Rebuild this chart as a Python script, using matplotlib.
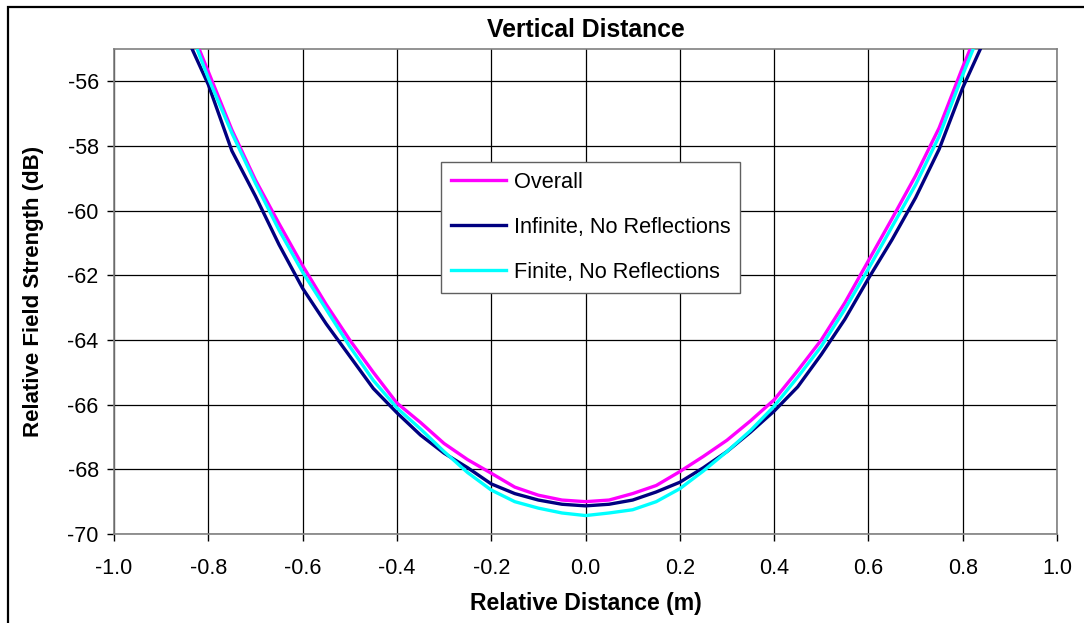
import numpy as np
import matplotlib.pyplot as plt
from matplotlib.patches import Rectangle

# --------------------------------------------------
# data
# --------------------------------------------------
distance = [-0.85, -0.80, -0.75, -0.70, -0.65, -0.60, -0.55, -0.50, -0.45,
            -0.40, -0.35, -0.30, -0.25, -0.20, -0.15, -0.10, -0.05, 0.00,
            0.05, 0.10, 0.15, 0.20, 0.25, 0.30, 0.35, 0.40, 0.45,
            0.50, 0.55, 0.60, 0.65, 0.70, 0.75, 0.80, 0.85]

overall = [-53.9, -55.7, -57.5, -59.05, -60.4, -61.7, -62.9, -64.0, -65.0,
           -65.95, -66.55, -67.2, -67.7, -68.12, -68.55, -68.8, -68.95, -69.0,
           -68.95, -68.75, -68.5, -68.07, -67.6, -67.1, -66.5, -65.85, -64.95,
           -64.0, -62.85, -61.55, -60.25, -58.92, -57.44, -55.56, -53.8]

infinite = [-54.5, -56.1, -58.15, -59.55, -61.05, -62.4, -63.5, -64.5, -65.5,
            -66.25, -66.94, -67.5, -67.95, -68.45, -68.75, -68.95, -69.08, -69.13,
            -69.08, -68.95, -68.7, -68.4, -67.95, -67.45, -66.85, -66.2, -65.45,
            -64.45, -63.36, -62.1, -60.9, -59.6, -58.1, -56.2, -54.6]

finite = [-54.0, -55.9, -57.6, -59.15, -60.6, -61.9, -63.05, -64.2, -65.25,
          -66.1, -66.75, -67.45, -68.1, -68.64, -69.0, -69.2, -69.35, -69.43,
          -69.35, -69.25, -69.0, -68.6, -68.05, -67.45, -66.8, -66.05, -65.15,
          -64.2, -63.05, -61.8, -60.5, -59.2, -57.7, -55.8, -54.0]

series_labels = ["Overall", "Infinite, No Reflections", "Finite, No Reflections"]
series_colors = ["#FF00FF", "#000080", "#00FFFF"]

x_ticks = [-1.0, -0.8, -0.6, -0.4, -0.2, 0.0, 0.2, 0.4, 0.6, 0.8, 1.0]
x_ticklabels = ["-1.0", "-0.8", "-0.6", "-0.4", "-0.2", "0.0",
                "0.2", "0.4", "0.6", "0.8", "1.0"]
y_ticks = [-70, -68, -66, -64, -62, -60, -58, -56]

# --------------------------------------------------
# plotting style
# --------------------------------------------------
plt.rcParams["font.family"] = ["Liberation Sans", "DejaVu Sans"]

fig = plt.figure(figsize=(10.84, 6.23), dpi=100)
ax = fig.add_axes([114 / 1084, 1 - 534 / 623, 943 / 1084, 485 / 623])

# outer chart frame (cropped at right and bottom)
fig.patches.append(Rectangle((8 / 1084, -0.1), 1.2, 1 - 7 / 623 + 0.1,
                             transform=fig.transFigure, fill=False,
                             edgecolor="black", linewidth=1.6))

for vals, lab, col in zip([overall, infinite, finite], series_labels, series_colors):
    ax.plot(distance, vals, color=col, lw=2.4, label=lab, zorder=3)

ax.set_xlim(-1.0, 1.0)
ax.set_ylim(-70, -55)
ax.set_xticks(x_ticks)
ax.set_xticklabels(x_ticklabels)
ax.set_yticks(y_ticks)
ax.set_yticklabels([str(t) for t in y_ticks])
ax.tick_params(direction="out", length=5, width=1, labelsize=15.5)
ax.tick_params(axis="x", pad=12.5)
ax.tick_params(axis="y", pad=6)
ax.grid(True, color="black", lw=0.9)
ax.set_axisbelow(True)
for sp in ax.spines.values():
    sp.set_color("#808080")
    sp.set_linewidth(1.2)

ax.set_title("Vertical Distance", fontsize=17.8, fontweight="bold", pad=8.4)
ax.set_xlabel("Relative Distance (m)", fontsize=16.6, fontweight="bold", labelpad=9)
ax.set_ylabel("Relative Field Strength (dB)", fontsize=16, fontweight="bold", labelpad=16.5)

leg = ax.legend(loc="upper left", bbox_to_anchor=((441 - 114) / 943, (534 - 162) / 485),
                borderaxespad=0, fontsize=15.7, handlelength=2.55, handletextpad=0.35,
                borderpad=0.45, labelspacing=1.1, fancybox=False, framealpha=1)
leg.get_frame().set_edgecolor("#606060")
leg.get_frame().set_linewidth(1.0)

fig.savefig("out.png", dpi=100)
